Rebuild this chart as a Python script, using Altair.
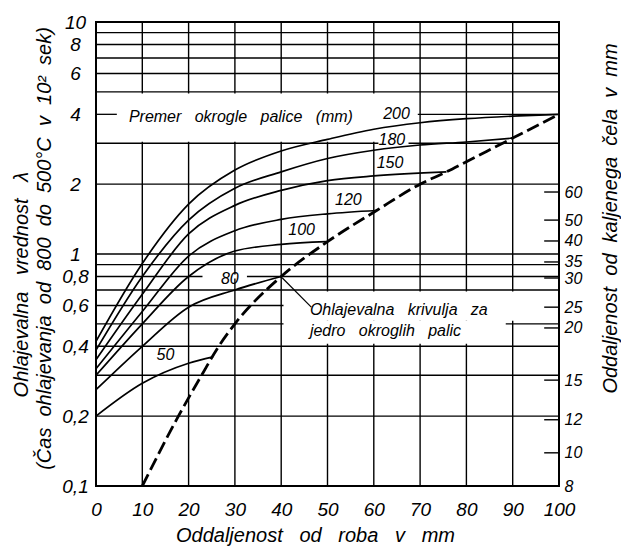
import altair as alt
import pandas as pd

NB = "\u00a0"
ZW = "\u200b"
FONT = "Liberation Sans"


def gap(k):
    return " " + NB * k


# ---------------- axis / grid values ----------------
x_tick_values = [0, 10, 20, 30, 40, 50, 60, 70, 80, 90, 100]
left_tick_values = [0.1, 0.2, 0.4, 0.6, 0.8, 1, 2, 4, 6, 8, 10]
left_tick_labels = ["0,1", "0,2", "0,4", "0,6", "0,8", "1", "2", "4", "6", "8", "10"]
right_tick_values = [0.1, 0.139, 0.193, 0.286, 0.48, 0.59, 0.788, 0.924, 1.138, 1.40, 1.85]
right_tick_labels = ["8", "10", "12", "15", "20", "25", "30", "35", "40", "50", "60"]
h_grid = [0.2, 0.3, 0.4, 0.5, 0.6, 0.7, 0.8, 0.9, 1, 2, 3, 5, 6, 7, 8, 9]
v_grid = [10, 20, 30, 40, 50, 60, 70, 80, 90]

# ---------------- curves (distance mm, cooling value lambda) ----------------
diameters = ["50", "80", "100", "120", "150", "180", "200"]
dist_50 = [0, 10, 20, 25.3]
lam_50 = [0.20, 0.277, 0.338, 0.36]
dist_80 = [0, 10, 20, 30, 40]
lam_80 = [0.26, 0.40, 0.59, 0.70, 0.80]
dist_100 = [0, 10, 20, 30, 40, 49.8]
lam_100 = [0.30, 0.50, 0.80, 1.03, 1.10, 1.13]
dist_120 = [0, 10, 20, 30, 40, 50, 60.6]
lam_120 = [0.32, 0.565, 0.98, 1.26, 1.41, 1.49, 1.54]
dist_150 = [0, 10, 20, 30, 40, 50, 60, 75.7]
lam_150 = [0.35, 0.67, 1.22, 1.62, 1.88, 2.07, 2.17, 2.26]
dist_180 = [0, 10, 20, 30, 40, 50, 60, 70, 80, 90]
lam_180 = [0.385, 0.80, 1.40, 1.92, 2.26, 2.58, 2.80, 2.95, 3.04, 3.16]
dist_200 = [0, 10, 20, 30, 40, 50, 60, 70, 80, 90, 100]
lam_200 = [0.42, 0.91, 1.64, 2.30, 2.78, 3.12, 3.45, 3.68, 3.83, 3.93, 4.0]

core_dist = [10, 17.8, 22.8, 26.5, 30, 40, 50, 60.6, 70, 75.7, 80, 90, 100]
core_lam = [0.1, 0.2, 0.3, 0.4, 0.5, 0.8, 1.13, 1.54, 2.0, 2.26, 2.5, 3.16, 4.0]

# curve labels
curve_label_text = ["200", "180", "150", "120", "100", "80", "50"]
curve_label_x = [64.9, 63.9, 63.5, 54.5, 44.4, 28.9, 15.0]
curve_label_lam = [4.0, 3.1, 2.47, 1.71, 1.27, 0.78, 0.367]

# blank (white) areas of the drawing: band for legend text, note box, label gaps
mask_x0 = [0, 40.5, 40.5, 23, 61]
mask_x1 = [62, 100, 88.5, 32.6, 67.5]
mask_l0 = [3.05, 0.515, 0.41, 0.785, 2.95]
mask_l1 = [4.92, 0.69, 0.515, 0.815, 3.05]

legend_text = "Premer" + gap(2) + "okrogle" + gap(2) + "palice" + gap(2) + "(mm)"
note_lines = ["Ohlajevalna" + gap(2) + "krivulja" + gap(2) + "za",
              "jedro" + gap(2) + "okroglih" + gap(2) + "palic"]
note_x = [46.2, 46.2]
note_lam = [0.574, 0.466]

# ---------------- build tables ----------------
dist_all = [dist_50, dist_80, dist_100, dist_120, dist_150, dist_180, dist_200]
lam_all = [lam_50, lam_80, lam_100, lam_120, lam_150, lam_180, lam_200]
rows = []
for d, xs, ls in zip(diameters, dist_all, lam_all):
    for xv, lv in zip(xs, ls):
        rows.append({"d": d, "x": xv, "lam": lv})
curves_df = pd.DataFrame(rows)
core_df = pd.DataFrame({"x": core_dist, "lam": core_lam})

X = alt.Scale(domain=[0, 100], nice=False, zero=False)
Y = alt.Scale(type="log", domain=[0.1, 10], nice=False)


def js_list(vals, quote=False):
    if quote:
        return "[" + ",".join("'" + v + "'" for v in vals) + "]"
    return "[" + ",".join(repr(v) for v in vals) + "]"


left_expr = js_list(left_tick_labels, True) + "[indexof(" + js_list(left_tick_values) + ", datum.value)]"
right_expr = js_list(right_tick_labels, True) + "[indexof(" + js_list(right_tick_values) + ", datum.value)]"

x_title = "Oddaljenost" + gap(2) + "od" + gap(2) + "roba" + gap(2) + "v" + gap(2) + "mm"
left_title = ["Ohlajevalna" + gap(2) + "vrednost" + gap(2) + "λ" + NB * 13 + ZW,
              "(Čas" + gap(1) + "ohlajevanja" + gap(1) + "od" + gap(1) + "800" + gap(1) + "do" + gap(1)
              + "500°C" + gap(1) + "v" + gap(1) + "10²" + gap(1) + "sek)"]
right_title = "Oddaljenost" + gap(1) + "od" + gap(1) + "kaljenega" + gap(1) + "čela" + gap(1) + "v" + gap(1) + "mm"

x_axis = alt.Axis(orient="bottom", values=x_tick_values, format="d", ticks=False, domain=False,
                  grid=False, labelFontSize=19, labelPadding=14, labelFlush=False,
                  labelOverlap=False, title=x_title, titleFontSize=20, titleX=219, titleY=55,
                  titleAlign="center", titleBaseline="alphabetic")
left_axis = alt.Axis(orient="left", values=left_tick_values, labelExpr=left_expr, ticks=False,
                     domain=False, grid=False, labelFontSize=19, labelAlign="center",
                     labelBaseline="middle", labelPadding=21, labelFlush=False, labelOverlap=False,
                     title=left_title, titleFontSize=20, titleAngle=270, titleX=-69, titleY=226,
                     titleAlign="center", titleBaseline="alphabetic", titleLineHeight=23)
right_axis = alt.Axis(orient="right", values=right_tick_values, labelExpr=right_expr, ticks=False,
                      domain=False, grid=False, labelFontSize=16, labelAlign="left",
                      labelBaseline="middle", labelPadding=5, labelFlush=False, labelOverlap=False,
                      title=right_title, titleFontSize=20, titleAngle=270, titleX=57, titleY=196,
                      titleAlign="center", titleBaseline="alphabetic")

one_row = pd.DataFrame({"k": [0]})

# vertical grid lines
vgrid = alt.Chart(pd.DataFrame({"x": v_grid})).mark_rule(color="black", strokeWidth=1.4).encode(
    x=alt.X("x:Q", scale=X, axis=x_axis),
    y=alt.YDatum(0.1, scale=Y, axis=None),
    y2=alt.Y2Datum(10),
)
# horizontal grid lines (carries left axis)
hgrid = alt.Chart(pd.DataFrame({"lam": h_grid})).mark_rule(color="black", strokeWidth=1.4).encode(
    x=alt.XDatum(0, scale=X, axis=x_axis),
    x2=alt.X2Datum(100),
    y=alt.Y("lam:Q", scale=Y, axis=left_axis),
)
# white blank areas
masks = alt.Chart(pd.DataFrame({"x0": mask_x0, "x1": mask_x1, "l0": mask_l0, "l1": mask_l1})).mark_rect(
    color="white").encode(
    x=alt.X("x0:Q", scale=X, axis=x_axis), x2="x1:Q",
    y=alt.Y("l0:Q", scale=Y, axis=None), y2="l1:Q",
)
# inward ticks of the right scale (carries right axis)
rticks = alt.Chart(pd.DataFrame({"lam": right_tick_values})).mark_rule(color="black", strokeWidth=1.4).encode(
    x=alt.XDatum(96.8, scale=X, axis=x_axis),
    x2=alt.X2Datum(100),
    y=alt.Y("lam:Q", scale=Y, axis=right_axis),
)
# small tick at 4 on the left and leader from "200"
lead4 = alt.Chart(pd.DataFrame({"x0": [0, 69.5], "x1": [4.5, 100], "lam": [4, 4]})).mark_rule(
    color="black", strokeWidth=1.3).encode(
    x=alt.X("x0:Q", scale=X, axis=x_axis), x2="x1:Q",
    y=alt.Y("lam:Q", scale=Y, axis=None),
)
# leader line for note
note_lead = alt.Chart(pd.DataFrame({"x0": [40.2], "x1": [46.5], "l0": [0.79], "l1": [0.59]})).mark_rule(
    color="black", strokeWidth=1.2).encode(
    x=alt.X("x0:Q", scale=X, axis=x_axis), x2="x1:Q",
    y=alt.Y("l0:Q", scale=Y, axis=None), y2="l1:Q",
)
# frame
frame = alt.Chart(one_row).mark_rect(filled=False, stroke="black", strokeWidth=2).encode(
    x=alt.XDatum(0, scale=X, axis=x_axis), x2=alt.X2Datum(100),
    y=alt.YDatum(0.1, scale=Y, axis=None), y2=alt.Y2Datum(10),
)
# curves
curves = alt.Chart(curves_df).mark_line(color="black", strokeWidth=1.7, interpolate="monotone").encode(
    x=alt.X("x:Q", scale=X, axis=x_axis),
    y=alt.Y("lam:Q", scale=Y, axis=None),
    detail="d:N",
)
core = alt.Chart(core_df).mark_line(color="black", strokeWidth=2.8, strokeDash=[13, 5],
                                    interpolate="monotone").encode(
    x=alt.X("x:Q", scale=X, axis=x_axis),
    y=alt.Y("lam:Q", scale=Y, axis=None),
)
# texts
clabels = alt.Chart(pd.DataFrame({"t": curve_label_text, "x": curve_label_x, "lam": curve_label_lam})).mark_text(
    font=FONT, fontStyle="italic", fontSize=16, color="black", align="center", baseline="middle").encode(
    x=alt.X("x:Q", scale=X, axis=x_axis),
    y=alt.Y("lam:Q", scale=Y, axis=None),
    text="t:N",
)
legend = alt.Chart(pd.DataFrame({"t": [legend_text], "x": [31.3], "lam": [3.9]})).mark_text(
    font=FONT, fontStyle="italic", fontSize=16, color="black", align="center", baseline="middle").encode(
    x=alt.X("x:Q", scale=X, axis=x_axis),
    y=alt.Y("lam:Q", scale=Y, axis=None),
    text="t:N",
)
note = alt.Chart(pd.DataFrame({"t": note_lines, "x": note_x, "lam": note_lam})).mark_text(
    font=FONT, fontStyle="italic", fontSize=16, color="black", align="left", baseline="middle").encode(
    x=alt.X("x:Q", scale=X, axis=x_axis),
    y=alt.Y("lam:Q", scale=Y, axis=None),
    text="t:N",
)

chart = alt.layer(
    vgrid, hgrid, masks, rticks, lead4, note_lead, frame, curves, core, clabels, legend, note
).resolve_scale(y="independent").properties(
    width=463, height=464,
    autosize=alt.AutoSizeParams(type="none"),
    padding={"left": 96, "top": 22, "right": 62, "bottom": 61},
).configure_view(stroke=None).configure_axis(
    labelFont=FONT, titleFont=FONT, labelColor="black", titleColor="black",
    labelFontStyle="italic", titleFontStyle="italic", titleFontWeight="normal",
)

chart.save("out.html", embed_options={"renderer": "svg", "actions": False})
